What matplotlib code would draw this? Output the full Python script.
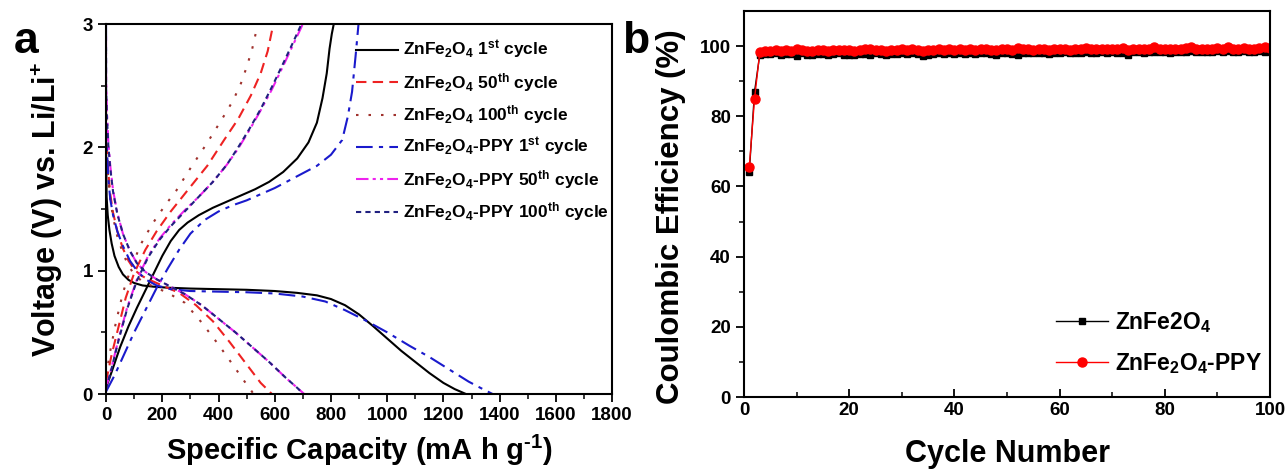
import numpy as np
import matplotlib
matplotlib.use("Agg")
import matplotlib.pyplot as plt

plt.rcParams['font.family'] = ['Liberation Sans', 'DejaVu Sans']
plt.rcParams['font.weight'] = 'bold'
plt.rcParams['mathtext.fontset'] = 'custom'
plt.rcParams['mathtext.rm'] = 'Liberation Sans:bold'
plt.rcParams['mathtext.it'] = 'Liberation Sans:bold'
plt.rcParams['mathtext.bf'] = 'Liberation Sans:bold'

# ---- panel a: charge/discharge profiles (capacity mA h/g, voltage V) ----
zfo1_dis_cap = [0, 2, 6, 12, 20, 30, 45, 60, 80, 100, 130, 170, 220, 300, 400, 500, 600, 680,
                750, 800, 850, 900, 950, 1000, 1050, 1100, 1150, 1200, 1240, 1280]
zfo1_dis_v = [2.0, 1.6, 1.45, 1.33, 1.22, 1.12, 1.03, 0.97, 0.925, 0.9, 0.88, 0.87, 0.862, 0.855,
              0.85, 0.845, 0.835, 0.82, 0.80, 0.77, 0.72, 0.645, 0.55, 0.45, 0.35, 0.26, 0.17,
              0.09, 0.04, 0.0]
zfo1_chg_cap = [0, 20, 50, 80, 110, 140, 170, 200, 230, 260, 290, 330, 380, 430, 480, 530, 580,
                630, 680, 720, 750, 770, 785, 795, 803, 810]
zfo1_chg_v = [0.05, 0.18, 0.38, 0.55, 0.7, 0.84, 0.98, 1.12, 1.24, 1.33, 1.39, 1.45, 1.51, 1.56,
              1.61, 1.66, 1.72, 1.8, 1.91, 2.04, 2.2, 2.4, 2.6, 2.8, 2.92, 3.0]

zfo50_dis_cap = [0, 3, 8, 15, 25, 40, 60, 80, 100, 125, 150, 200, 260, 320, 380, 440, 500, 550, 590]
zfo50_dis_v = [2.3, 2.0, 1.8, 1.62, 1.47, 1.32, 1.18, 1.08, 1.01, 0.96, 0.93, 0.88, 0.82, 0.72,
               0.59, 0.42, 0.24, 0.09, 0.0]
zfo50_chg_cap = [0, 20, 45, 70, 100, 140, 180, 230, 300, 360, 420, 470, 515, 550, 575, 595]
zfo50_chg_v = [0.1, 0.32, 0.55, 0.78, 0.98, 1.17, 1.32, 1.48, 1.68, 1.85, 2.06, 2.23, 2.42, 2.6,
               2.78, 3.0]

zfo100_dis_cap = [0, 3, 8, 15, 25, 40, 60, 80, 100, 130, 170, 220, 280, 340, 400, 450, 490, 525]
zfo100_dis_v = [2.2, 1.95, 1.75, 1.58, 1.43, 1.28, 1.14, 1.04, 0.97, 0.91, 0.87, 0.82, 0.74, 0.58,
                0.40, 0.24, 0.11, 0.0]
zfo100_chg_cap = [0, 15, 35, 60, 90, 125, 165, 210, 250, 300, 358, 410, 452, 480, 500, 520, 540]
zfo100_chg_v = [0.15, 0.35, 0.58, 0.82, 1.03, 1.22, 1.38, 1.53, 1.65, 1.83, 2.03, 2.22, 2.38,
                2.52, 2.65, 2.8, 3.0]

ppy1_dis_cap = [0, 0, 3, 8, 15, 25, 40, 60, 85, 110, 140, 180, 230, 300, 400, 500, 600, 700, 780,
                850, 920, 1000, 1080, 1150, 1220, 1290, 1340, 1375]
ppy1_dis_v = [3.0, 2.3, 2.0, 1.75, 1.58, 1.45, 1.32, 1.2, 1.08, 1.0, 0.93, 0.88, 0.85, 0.835, 0.83,
              0.825, 0.815, 0.79, 0.75, 0.68, 0.6, 0.5, 0.39, 0.3, 0.2, 0.1, 0.04, 0.0]
ppy1_chg_cap = [0, 30, 60, 100, 140, 180, 220, 260, 300, 350, 400, 450, 500, 550, 600, 650, 700,
                750, 800, 840, 860, 875, 888, 898]
ppy1_chg_v = [0.02, 0.15, 0.3, 0.5, 0.68, 0.86, 1.02, 1.17, 1.3, 1.41, 1.48, 1.53, 1.57, 1.62,
              1.67, 1.73, 1.79, 1.85, 1.94, 2.06, 2.25, 2.45, 2.75, 3.0]

ppy50_dis_cap = [0, 0, 3, 8, 15, 25, 40, 60, 85, 110, 140, 180, 230, 280, 340, 400, 460, 520, 580,
                 640, 680, 705]
ppy50_dis_v = [2.9, 2.6, 2.3, 2.05, 1.85, 1.65, 1.47, 1.3, 1.16, 1.06, 0.99, 0.93, 0.87, 0.81,
               0.72, 0.61, 0.5, 0.38, 0.26, 0.13, 0.05, 0.0]
ppy50_chg_cap = [0, 20, 45, 75, 110, 150, 190, 230, 280, 330, 380, 430, 470, 510, 550, 590, 630,
                 665, 700]
ppy50_chg_v = [0.05, 0.22, 0.45, 0.7, 0.93, 1.12, 1.26, 1.37, 1.49, 1.6, 1.72, 1.86, 1.99, 2.14,
               2.3, 2.47, 2.66, 2.83, 3.0]

ppy100_dis_cap = [0, 0, 3, 8, 15, 25, 40, 60, 85, 110, 140, 180, 230, 280, 340, 400, 460, 520,
                  580, 640, 680, 702]
ppy100_dis_v = [2.8, 2.5, 2.25, 2.02, 1.83, 1.64, 1.46, 1.3, 1.16, 1.06, 0.99, 0.93, 0.87, 0.81,
                0.72, 0.61, 0.5, 0.38, 0.26, 0.13, 0.05, 0.0]
ppy100_chg_cap = [0, 20, 45, 75, 110, 150, 190, 230, 280, 330, 380, 430, 470, 510, 550, 590, 630,
                  665, 695]
ppy100_chg_v = [0.04, 0.21, 0.44, 0.69, 0.92, 1.11, 1.25, 1.36, 1.48, 1.6, 1.72, 1.86, 2.0, 2.15,
                2.31, 2.49, 2.68, 2.85, 3.0]

# ---- panel b: coulombic efficiency (%) per cycle ----
cycles = list(range(1, 101))
ce_zfo = [64.0, 87.0, 97.6, 97.8, 97.7, 97.9, 97.6, 97.8, 97.7, 97.1,
          97.9, 97.5, 97.6, 97.7, 97.8, 97.6, 97.7, 97.9, 97.5, 97.6,
          97.4, 97.7, 97.8, 97.6, 97.9, 97.7, 97.6, 97.8, 97.7, 97.9,
          97.8, 98.0, 97.7, 97.2, 97.6, 97.8, 97.9, 97.7, 98.0, 97.8,
          97.9, 97.7, 98.0, 97.8, 97.9, 98.0, 97.8, 97.6, 97.9, 98.0,
          97.8, 97.5, 97.9, 98.0, 98.1, 97.9, 98.0, 97.8, 98.1, 98.0,
          98.2, 97.9, 98.0, 98.1, 98.2, 98.0, 98.1, 98.3, 98.1, 98.2,
          98.0, 98.1, 97.6, 98.2, 98.3, 98.1, 98.2, 98.4, 98.2, 98.3,
          98.1, 98.3, 98.2, 98.4, 98.5, 98.3, 98.2, 98.4, 98.3, 98.5,
          98.3, 98.6, 98.4, 98.2, 98.5, 98.4, 98.3, 98.5, 98.4, 98.5]
ce_ppy = [65.5, 85.0, 98.3, 98.6, 98.5, 98.8, 98.6, 98.9, 98.7, 99.2,
          98.8, 98.6, 98.7, 98.9, 98.8, 98.7, 98.9, 99.0, 98.8, 98.9,
          98.7, 98.9, 99.1, 99.3, 98.8, 98.9, 98.7, 99.0, 98.9, 99.1,
          99.0, 99.2, 99.0, 98.6, 98.8, 99.0, 99.1, 98.9, 99.2, 99.0,
          99.1, 98.9, 99.2, 99.0, 99.3, 99.1, 98.9, 98.8, 99.1, 99.2,
          99.0, 99.4, 99.1, 99.2, 99.0, 99.1, 99.2, 98.9, 99.2, 99.1,
          99.3, 99.0, 99.2, 99.3, 99.5, 99.2, 99.1, 99.3, 99.2, 99.1,
          99.3, 99.4, 99.0, 99.2, 99.3, 99.1, 99.2, 99.6, 99.3, 99.2,
          99.1, 99.3, 99.2, 99.4, 99.7, 99.2, 99.1, 99.3, 99.2, 99.4,
          99.3, 99.7, 99.3, 99.1, 99.4, 99.3, 99.2, 99.5, 99.6, 99.4]

fig = plt.figure(figsize=(12.87, 4.70), dpi=100)
ax1 = fig.add_axes([0.0824, 0.1617, 0.3932, 0.7872])
ax2 = fig.add_axes([0.5781, 0.1553, 0.4087, 0.8213])

# panel a
curves = [
    (zfo1_dis_cap, zfo1_dis_v, zfo1_chg_cap, zfo1_chg_v, 'black', '-',
     'ZnFe$_2$O$_4$ 1$^{st}$ cycle'),
    (zfo50_dis_cap, zfo50_dis_v, zfo50_chg_cap, zfo50_chg_v, '#ee2222', (0, (5, 3)),
     'ZnFe$_2$O$_4$ 50$^{th}$ cycle'),
    (zfo100_dis_cap, zfo100_dis_v, zfo100_chg_cap, zfo100_chg_v, '#a0322d', (0, (1.2, 4.8)),
     'ZnFe$_2$O$_4$ 100$^{th}$ cycle'),
    (ppy1_dis_cap, ppy1_dis_v, ppy1_chg_cap, ppy1_chg_v, '#1a1acc', (0, (8, 3, 2, 3)),
     'ZnFe$_2$O$_4$-PPY 1$^{st}$ cycle'),
    (ppy50_dis_cap, ppy50_dis_v, ppy50_chg_cap, ppy50_chg_v, '#ee22ee', (0, (6, 2, 1.5, 2, 1.5, 2)),
     'ZnFe$_2$O$_4$-PPY 50$^{th}$ cycle'),
    (ppy100_dis_cap, ppy100_dis_v, ppy100_chg_cap, ppy100_chg_v, '#202080', (0, (2.5, 2)),
     'ZnFe$_2$O$_4$-PPY 100$^{th}$ cycle'),
]
for dc, dv, cc, cv, col, ls, lab in curves:
    ax1.plot(dc, dv, color=col, ls=ls, lw=1.5, label=lab)
    ax1.plot(cc, cv, color=col, ls=ls, lw=1.5)

ax1.set_xlim(0, 1800)
ax1.set_ylim(0, 3)
ax1.set_xticks(np.arange(0, 1801, 200))
ax1.set_xticks(np.arange(0, 1801, 100), minor=True)
ax1.set_yticks([0, 1, 2, 3])
ax1.set_yticks(np.arange(0, 3.01, 0.5), minor=True)
ax1.tick_params(which='major', direction='out', length=6, width=1.3, labelsize=13.5)
ax1.tick_params(which='minor', direction='out', length=3.5, width=1.1)
for s in ax1.spines.values():
    s.set_linewidth(1.5)
ax1.set_xlabel(r'Specific Capacity (mA h g$^{\text{-1}}$)', fontsize=21, fontweight='bold')
ax1.set_ylabel('Voltage (V) vs. Li/Li$^{+}$', fontsize=22, fontweight='bold')
ax1.xaxis.set_label_coords(0.5, -0.105)
ax1.yaxis.set_label_coords(-0.081, 0.5)
ax1.legend(loc='upper left', bbox_to_anchor=(0.494, 0.96), frameon=False, fontsize=12.5,
           handlelength=2.4, handletextpad=0.3, labelspacing=0.55, borderpad=0,
           borderaxespad=0)

# panel b
ax2.plot(cycles, ce_zfo, color='black', marker='s', ms=5, lw=1, label='ZnFe2O$_4$')
ax2.plot(cycles, ce_ppy, color='red', marker='o', ms=6.5, lw=1, label='ZnFe$_2$O$_4$-PPY')
ax2.set_xlim(0, 100)
ax2.set_ylim(0, 110)
ax2.set_xticks(np.arange(0, 101, 20))
ax2.set_xticks(np.arange(0, 101, 10), minor=True)
ax2.set_yticks(np.arange(0, 101, 20))
ax2.set_yticks(np.arange(0, 101, 10), minor=True)
ax2.tick_params(axis='x', which='major', direction='in', length=6, width=1.3, labelsize=13.5)
ax2.tick_params(axis='x', which='minor', direction='in', length=3.5, width=1.1)
ax2.tick_params(axis='y', which='major', direction='out', length=6, width=1.3, labelsize=13.5)
ax2.tick_params(axis='y', which='minor', direction='out', length=3.5, width=1.1)
for s in ax2.spines.values():
    s.set_linewidth(1.5)
ax2.set_xlabel('Cycle Number', fontsize=22, fontweight='bold')
ax2.set_ylabel('Coulombic Efficiency (%)', fontsize=22.5, fontweight='bold')
ax2.xaxis.set_label_coords(0.5, -0.11)
ax2.yaxis.set_label_coords(-0.11, 0.466)
ax2.legend(loc='lower right', bbox_to_anchor=(0.985, 0.055), frameon=False, fontsize=16.5,
           handlelength=2.27, handletextpad=0.3, labelspacing=0.7, borderpad=0,
           borderaxespad=0)

fig.text(14 / 1287, 1 - 53 / 470, 'a', fontsize=32, fontweight='bold', va='baseline')
fig.text(622 / 1287, 1 - 53 / 470, 'b', fontsize=32, fontweight='bold', va='baseline')

fig.savefig('out.png', dpi=100)
